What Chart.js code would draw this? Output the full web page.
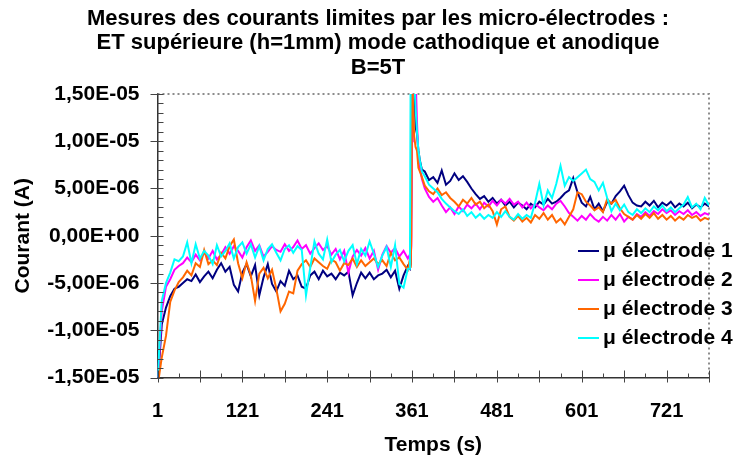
<!DOCTYPE html>
<html>
<head>
<meta charset="utf-8">
<script src="https://cdn.jsdelivr.net/npm/chart.js@4/dist/chart.umd.min.js"></script>
<style>
  html, body { margin: 0; padding: 0; background: #fff; }
  #c { display: block; }
</style>
</head>
<body>
<canvas id="c" width="738" height="459"></canvas>
<script>
// ---- DATA (time in s, current in µA) ----
const TITLE_LINES = [
  "Mesures des courants limites par les micro-électrodes :",
  "ET supérieure (h=1mm) mode cathodique et anodique",
  "B=5T"
];
const X_TITLE = "Temps (s)";
const Y_TITLE = "Courant (A)";
const SERIES_NAMES = ["μ électrode 1", "μ électrode 2", "μ électrode 3", "μ électrode 4"];
const UNIT = 1e-6;

const TIMES = [
  1,7,13,19,25,31,37,43,49,55,
  61,67,73,79,85,91,97,103,109,115,
  121,127,133,139,145,151,157,163,169,175,
  181,187,193,199,205,211,217,223,229,235,
  241,247,253,259,265,271,277,283,289,295,
  301,307,313,319,325,331,337,343,349,355,
  358,359,360,361,362,364,366,368,370,372,375,
  379,385,391,397,403,409,415,421,427,433,
  439,445,451,457,463,469,475,481,487,493,
  499,505,511,517,523,529,535,541,547,553,
  559,565,571,577,583,589,595,601,607,613,
  619,625,631,637,643,649,655,661,667,673,
  679,685,691,697,703,709,715,721,727,733,
  739,745,751,757,763,769,775,781
];

const E1 = [
  -16,-9.4,-7.6,-6.4,-5.6,-5.4,-5.0,-4.6,-4.8,-4.1,
  -4.9,-4.3,-3.8,-4.5,-3.6,-2.9,-3.8,-3.3,-5.2,-5.9,
  -3.9,-3.0,-4.3,-3.1,-6.3,-4.4,-3.0,-5.1,-5.9,-4.8,
  -5.3,-3.7,-4.6,-4.2,-5.4,-5.6,-4.2,-3.8,-4.6,-3.7,
  -4.3,-4.0,-4.6,-3.9,-4.2,-3.8,-6.3,-5.0,-3.9,-4.5,
  -3.9,-4.6,-4.2,-4.0,-3.6,-4.4,-3.7,-5.6,-4.2,-3.2,
  -3.5,-3.0,5,17,17,17,11.5,10.8,9.0,8.0,7.0,
  6.8,5.9,6.2,5.6,6.9,5.4,5.8,6.6,5.9,6.3,
  5.7,5.0,4.4,3.9,4.2,3.6,4.0,3.4,3.8,3.2,
  3.6,3.0,3.5,3.2,2.8,3.4,3.0,3.6,3.3,3.9,
  3.4,3.6,4.0,4.5,4.8,6.1,4.6,3.5,3.1,4.1,
  2.8,3.4,2.6,3.6,3.4,4.2,4.7,5.3,4.3,3.5,
  3.2,3.1,3.6,3.2,3.7,3.0,3.5,3.2,3.6,3.0,
  3.4,3.1,3.5,2.9,3.3,3.0,3.4,3.1
];

const E2 = [
  -16,-8.0,-5.4,-4.6,-3.6,-3.2,-2.9,-2.3,-2.8,-2.0,
  -2.6,-1.8,-2.4,-1.6,-2.5,-2.0,-1.2,-1.9,-1.1,-1.6,
  -2.3,-1.2,-0.5,-1.6,-1.0,-2.2,-1.7,-1.1,-1.5,-1.7,
  -0.9,-1.6,-1.2,-0.5,-1.4,-1.0,-1.9,-1.3,-0.8,-1.5,
  -1.1,-2.0,-1.4,-2.5,-1.6,-3.9,-2.2,-1.5,-2.1,-1.3,
  -2.4,-1.6,-3.6,-2.0,-1.1,-1.8,-1.3,-2.2,-1.6,-2.4,
  -2.0,-2.5,-1,10,17,17,17,12,8.5,7.3,6.0,
  5.0,4.1,3.6,4.0,3.2,2.5,3.0,2.3,3.1,2.6,
  3.3,2.9,3.4,2.8,3.5,3.1,3.7,3.2,3.8,3.4,
  3.9,3.3,3.6,3.0,3.5,2.9,3.4,3.0,2.7,3.2,
  2.8,3.4,3.7,3.1,2.4,2.0,1.6,2.1,1.7,2.3,
  1.8,1.5,2.0,1.6,2.2,1.7,2.3,1.5,2.0,1.7,
  2.3,2.0,2.5,2.1,2.6,2.3,2.8,2.4,2.7,2.2,
  2.6,2.3,2.7,2.2,2.5,2.1,2.4,2.2
];

const E3 = [
  -16,-12.9,-10.6,-7.0,-5.8,-4.9,-4.4,-3.7,-4.2,-2.9,
  -3.3,-1.5,-3.0,-2.6,-3.1,-1.8,-2.4,-1.1,-0.4,-2.9,
  -4.5,-2.8,-4.2,-6.9,-4.0,-3.4,-4.5,-3.6,-5.6,-8.0,
  -7.2,-5.9,-6.1,-3.7,-3.0,-2.6,-3.3,-2.4,-2.8,-3.2,
  -3.5,-2.5,-2.8,-3.7,-2.9,-3.1,-2.4,-3.3,-2.6,-3.2,
  -2.8,-2.4,-3.0,-2.6,-3.2,-1.8,-2.6,-2.3,-3.0,-3.6,
  -2.5,-3.4,0,17,17,10.5,9.4,9.0,7.2,6.8,6.2,
  5.3,4.7,4.4,5.0,4.3,4.6,4.0,3.6,3.1,3.8,
  3.4,4.0,3.3,3.6,2.9,3.3,2.6,1.2,2.8,3.1,
  2.0,1.6,2.1,1.5,1.9,1.4,2.2,1.8,2.4,1.7,
  2.2,1.4,1.8,1.2,2.0,2.8,4.6,4.4,3.6,3.2,
  2.7,3.0,2.5,3.9,3.4,3.8,2.9,2.3,2.0,1.7,
  2.2,1.8,2.3,1.9,2.4,1.8,2.2,1.7,2.1,1.6,
  2.0,1.7,2.2,1.9,2.1,1.6,1.9,1.7
];

const E4 = [
  -15.5,-6.9,-5.0,-3.9,-2.5,-2.7,-2.2,-0.7,-2.9,-0.9,
  -2.4,-1.6,-2.1,-3.0,-1.0,-2.2,-1.6,-0.8,-2.4,-1.2,
  -0.7,-1.9,-0.9,-2.3,-1.1,-2.6,-1.4,-0.9,-1.8,-2.6,
  -1.4,-1.0,-1.8,-1.1,-1.5,-6.3,-3.4,-0.6,-1.9,-2.5,
  -0.4,-2.8,-2.0,-1.5,-2.7,-1.6,-1.0,-3.0,-1.4,-2.1,
  -0.6,-1.9,-3.3,-2.1,-1.2,-3.3,-1.0,-5.1,-5.5,-3.5,
  -3.5,17,17,17,17,17,13.5,11.0,9.0,8.0,6.8,
  6.3,5.4,5.0,4.6,3.9,3.4,3.0,2.6,2.3,2.8,
  2.1,2.5,1.9,2.3,1.8,2.2,1.9,2.5,2.0,2.6,
  2.0,1.7,2.3,1.8,2.2,1.9,3.5,5.5,3.2,4.8,
  4.0,5.5,7.4,5.3,6.2,5.8,6.2,6.6,7.0,6.0,
  5.7,4.8,5.6,4.0,2.6,3.4,2.7,3.3,2.5,2.2,
  2.8,2.4,2.9,2.5,3.1,2.7,3.2,2.6,3.0,2.5,
  2.9,3.3,4.1,3.0,3.4,2.8,4.0,3.2
];

const SERIES = [E1, E2, E3, E4];
const COLORS = ["#000080", "#FF00FF", "#FF6600", "#00FFFF"];

const X_MIN = 1, X_MAX = 781;
const X_LABEL_TICKS = [1, 121, 241, 361, 481, 601, 721];
const X_MAJOR_MARKS = [1, 61, 121, 181, 241, 301, 361, 421, 481, 541, 601, 661, 721, 781];
const X_MINOR_MARKS = [31, 91, 151, 211, 271, 331, 391, 451, 511, 571, 631, 691, 751];
const Y_MIN = -15e-6, Y_MAX = 15e-6;
const Y_LABEL_TICKS = [-15e-6, -10e-6, -5e-6, 0, 5e-6, 10e-6, 15e-6];
const Y_MINOR_MARKS = [-14,-13,-12,-11,-9,-8,-7,-6,-4,-3,-2,-1,1,2,3,4,6,7,8,9,11,12,13,14].map(v => v * UNIT);

// ---- helpers ----
const FONT = "'Liberation Sans', Arial, Helvetica, sans-serif";
function fmtSci(v) {
  if (Math.abs(v) < 1e-12) return "0,00E+00";
  const s = v.toExponential(2);           // e.g. "-1.50e-5"
  const [m, e] = s.split("e");
  const ev = parseInt(e, 10);
  const es = (ev < 0 ? "-" : "+") + String(Math.abs(ev)).padStart(2, "0");
  return m.replace(".", ",") + "E" + es;
}

const overlay = {
  id: 'overlay',
  beforeDatasetsDraw(chart) {
    const {ctx, chartArea: a} = chart;
    ctx.save();
    ctx.strokeStyle = '#8c8c8c';
    ctx.lineWidth = 2;
    ctx.setLineDash([2, 3]);
    ctx.beginPath();
    ctx.moveTo(a.left, a.top);
    ctx.lineTo(a.right, a.top);
    ctx.lineTo(a.right, a.bottom);
    ctx.stroke();
    ctx.restore();
  },
  afterDraw(chart) {
    const {ctx, chartArea: a, scales} = chart;
    ctx.save();
    ctx.strokeStyle = '#444';
    ctx.lineWidth = 1;
    ctx.beginPath();
    for (const v of X_MAJOR_MARKS) {
      const x = Math.round(scales.x.getPixelForValue(v)) + 0.5;
      ctx.moveTo(x, a.bottom - 7); ctx.lineTo(x, a.bottom + 5);
    }
    for (const v of X_MINOR_MARKS) {
      const x = Math.round(scales.x.getPixelForValue(v)) + 0.5;
      ctx.moveTo(x, a.bottom - 4); ctx.lineTo(x, a.bottom);
    }
    for (const v of Y_LABEL_TICKS) {
      const y = Math.round(scales.y.getPixelForValue(v)) + 0.5;
      ctx.moveTo(a.left - 7, y); ctx.lineTo(a.left + 6, y);
    }
    for (const v of Y_MINOR_MARKS) {
      const y = Math.round(scales.y.getPixelForValue(v)) + 0.5;
      ctx.moveTo(a.left, y); ctx.lineTo(a.left + 6, y);
    }
    ctx.stroke();

    // legend
    const lx0 = 578, lx1 = 599, tx = 603, y0 = 251, dy = 29;
    ctx.font = "bold 21px " + FONT;
    ctx.textBaseline = 'middle';
    ctx.textAlign = 'left';
    chart.data.datasets.forEach((ds, i) => {
      const y = y0 + i * dy;
      ctx.strokeStyle = ds.borderColor;
      ctx.lineWidth = 2;
      ctx.beginPath();
      ctx.moveTo(lx0, y); ctx.lineTo(lx1, y);
      ctx.stroke();
      ctx.fillStyle = '#000';
      ctx.fillText(ds.label, tx, y);
    });
    ctx.restore();
  }
};

const datasets = SERIES.map((vals, i) => ({
  label: SERIES_NAMES[i],
  data: TIMES.map((t, k) => ({x: t, y: vals[k] * UNIT})),
  borderColor: COLORS[i],
  backgroundColor: COLORS[i],
  borderWidth: 2,
  pointRadius: 0,
  tension: 0,
  fill: false,
  order: SERIES.length - i
}));

new Chart(document.getElementById('c'), {
  type: 'line',
  data: { datasets },
  options: {
    responsive: false,
    animation: false,
    events: [],
    layout: { padding: { left: 0, right: -18, top: 0, bottom: 0 } },
    plugins: {
      legend: { display: false },
      tooltip: { enabled: false },
      title: {
        display: true,
        text: TITLE_LINES,
        color: '#000',
        font: { family: FONT, size: 22, weight: 'bold', lineHeight: 24.5 / 22 },
        padding: { top: 6.5, bottom: 14 }
      }
    },
    scales: {
      x: {
        type: 'linear',
        min: X_MIN, max: X_MAX,
        afterBuildTicks: s => { s.ticks = X_LABEL_TICKS.map(v => ({value: v})); },
        afterFit: s => { s.height = 81.5; },
        grid: { display: true, drawOnChartArea: false, drawTicks: false, color: 'rgba(0,0,0,0)' },
        border: { display: true, color: '#333', width: 1.5 },
        ticks: {
          autoSkip: false, maxRotation: 0, padding: 21.5, color: '#000',
          font: { family: FONT, size: 20, weight: 'bold' },
          callback: v => String(v)
        },
        title: {
          display: true, text: X_TITLE, color: '#000',
          font: { family: FONT, size: 21, weight: 'bold' },
          padding: { top: 0, bottom: 1.4 }
        }
      },
      y: {
        min: Y_MIN, max: Y_MAX,
        afterBuildTicks: s => { s.ticks = Y_LABEL_TICKS.map(v => ({value: v})); },
        afterFit: s => { s.width = 157.5; },
        grid: { display: true, drawOnChartArea: false, drawTicks: false, color: 'rgba(0,0,0,0)' },
        border: { display: true, color: '#333', width: 1.5 },
        ticks: {
          autoSkip: false, padding: 18, color: '#000',
          font: { family: FONT, size: 21, weight: 'bold' },
          callback: v => fmtSci(v)
        },
        title: {
          display: true, text: Y_TITLE, color: '#000',
          font: { family: FONT, size: 21, weight: 'bold' },
          padding: { top: 10.4, bottom: 0 }
        }
      },
      yRight: {
        position: 'right',
        display: true,
        min: 0, max: 1,
        afterFit: s => { s.width = 47; },
        grid: { display: false, drawOnChartArea: false },
        border: { display: false },
        ticks: { display: false }
      }
    }
  },
  plugins: [overlay]
});
</script>
</body>
</html>
